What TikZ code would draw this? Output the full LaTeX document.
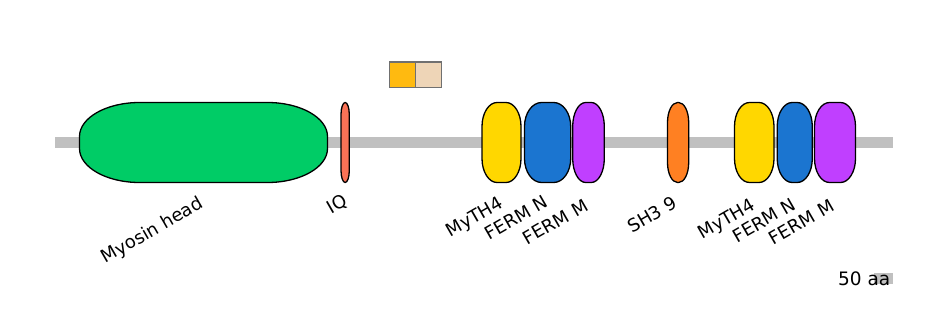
\documentclass[tikz,border=0pt]{standalone}
\usepackage{fontspec}
\setmainfont{DejaVu Sans}
\definecolor{backbone}{HTML}{C0C0C0}
\definecolor{myogreen}{HTML}{00CC66}
\definecolor{iqred}{HTML}{FA7256}
\definecolor{mythyellow}{HTML}{FFD700}
\definecolor{fermblue}{HTML}{1B75D0}
\definecolor{fermpurple}{HTML}{C03FFF}
\definecolor{shorange}{HTML}{FF8022}
\definecolor{motiforange}{HTML}{FFBA10}
\definecolor{motifbeige}{HTML}{EED5B7}
\definecolor{motifborder}{HTML}{707070}
\newcommand\pfdom[6]{%
  \path[domainbox,fill=#5] ({#1+#3},227.5) -- ({#2-#3},227.5)
    arc[start angle=90,end angle=0,x radius=#3,y radius=#4] -- (#2,{147.5+#4})
    arc[start angle=0,end angle=-90,x radius=#3,y radius=#4] -- ({#1+#3},147.5)
    arc[start angle=270,end angle=180,x radius=#3,y radius=#4] -- (#1,{227.5-#4})
    arc[start angle=180,end angle=90,x radius=#3,y radius=#4] -- cycle;
  \coordinate (#6) at ({(#1+#2)/2},187.5);}
\begin{document}
\begin{tikzpicture}[x=1pt,y=1pt,
  domainbox/.style={draw=black,line width=1.3pt},
  lbl/.style={rotate=30,anchor=north east,inner sep=0pt,font=\fontsize{18}{21}\selectfont},
  motif/.style={draw=motifborder,line width=1.9pt}]
\useasboundingbox (0,0) rectangle (944,330);
% backbone
\coordinate (bbL) at (55,187.5);
\coordinate (bbR) at (893,187.5);
\draw[backbone,line width=11pt] (bbL) -- (bbR);
% motifs
\path[motif,fill=motiforange] (389.5,242.5) rectangle (415.5,268);
\path[motif,fill=motifbeige] (415.5,242.5) rectangle (441.5,268);
% domains
\pfdom{79.5}{327.5}{60}{34}{myogreen}{myo}
\pfdom{341}{349.3}{4.15}{12}{iqred}{iq}
\pfdom{482}{521}{15}{24}{mythyellow}{myth1}
\pfdom{524.5}{570.7}{17}{24}{fermblue}{fermn1}
\pfdom{572.7}{604.3}{13}{24}{fermpurple}{fermm1}
\pfdom{667.5}{688.7}{10}{20}{shorange}{sh3}
\pfdom{734.5}{774}{15}{24}{mythyellow}{myth2}
\pfdom{777.2}{812.3}{15}{24}{fermblue}{fermn2}
\pfdom{814.5}{855.5}{15}{24}{fermpurple}{fermm2}
% labels
\node[lbl] (lmyo) at (197.5,135) {Myosin head};
\node[lbl] (liq) at (342,137) {IQ};
\node[lbl] (lmyth1) at (498,135) {MyTH4};
\node[lbl] (lfermn1) at (543,135.5) {FERM N};
\node[lbl] (lfermm1) at (583,132) {FERM M};
\node[lbl] (lsh3) at (672,135) {SH3 9};
\node[lbl] (lmyth2) at (750,133) {MyTH4};
\node[lbl] (lfermn2) at (790.5,133) {FERM N};
\node[lbl] (lfermm2) at (829,131.5) {FERM M};
% scale bar
\fill[backbone] (874,46) rectangle (893,57);
\node[anchor=base east,inner sep=0pt,font=\fontsize{18.5}{21}\selectfont] (scale) at (890.5,45) {50 aa};
\end{tikzpicture}
\end{document}
